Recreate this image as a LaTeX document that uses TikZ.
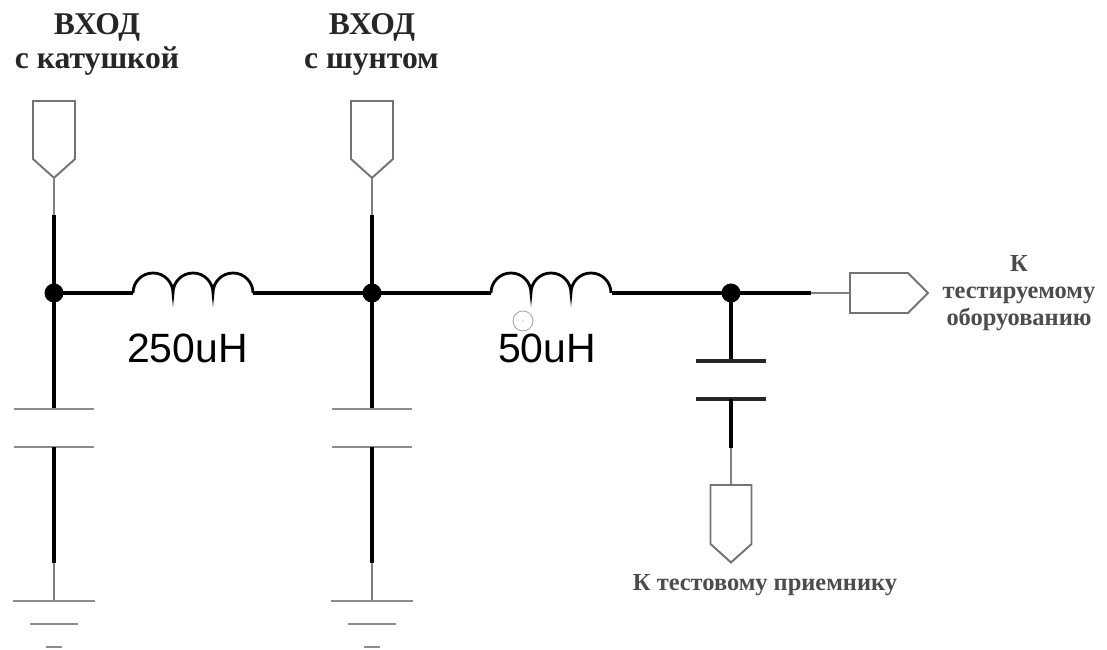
\documentclass[tikz,border=0pt]{standalone}
\usepackage{fontspec}
\setmainfont{Liberation Serif}
\setsansfont{Liberation Sans}
\usetikzlibrary{shapes.symbols,positioning,calc}

\begin{document}
\begin{tikzpicture}[
	wire/.style={line width=2.7pt, black},
	thin wire/.style={line width=1.2pt, black!50},
	plate/.style={line width=1.3pt, black!45},
	dark plate/.style={line width=2.4pt, black!85},
	coil/.style={line width=1.6pt, black},
	joint/.style={circle, fill=black, inner sep=0pt, outer sep=0pt, minimum size=3.8mm},
	pin/.style={signal, signal from=nowhere, draw=black!55, line width=1.1pt, inner sep=0pt, signal pointer angle=96},
	title/.style={font=\bfseries\fontsize{18}{20}\selectfont, text=black!85, inner sep=0pt, anchor=base},
	note/.style={font=\bfseries\fontsize{13.9}{15.3}\selectfont, text=black!70, inner sep=0pt, align=center},
	value/.style={font=\sffamily\fontsize{23.3}{26}\selectfont, text=black, inner sep=0pt}]
	\useasboundingbox (0,0) rectangle (22.14,13);

	\begin{scope}[xshift=1.08cm]
		\node[joint] (j1) at (0,7.14) {};
		\node[pin, signal to=south, minimum width=0.84cm, minimum height=1.16cm] (p1) at (0,10.4) {};
		\coordinate (t1) at (0,8.7);
		\coordinate (ca1) at (0,4.82);
		\coordinate (cb1) at (0,4.06);
		\coordinate (m1) at (0,1.74);
		\coordinate (g1) at (0,0.98);
		\draw [thin wire] (p1.south) -- (t1);
		\draw [wire] (t1) -- (j1.center);
		\draw [wire] (j1.center) -- (ca1);
		\draw [plate] ($(ca1)+(-0.8,0)$) -- ($(ca1)+(0.8,0)$);
		\draw [plate] ($(cb1)+(-0.8,0)$) -- ($(cb1)+(0.8,0)$);
		\draw [wire] (cb1) -- (m1);
		\draw [thin wire] (m1) -- (g1);
		\draw [plate] ($(g1)+(-0.82,0)$) -- ($(g1)+(0.82,0)$);
		\draw [plate] ($(g1)+(-0.48,-0.46)$) -- ($(g1)+(0.48,-0.46)$);
		\draw [plate] ($(g1)+(-0.16,-0.92)$) -- ($(g1)+(0.16,-0.92)$);
	\end{scope}

	\begin{scope}[xshift=7.44cm]
		\node[joint] (j2) at (0,7.14) {};
		\node[pin, signal to=south, minimum width=0.84cm, minimum height=1.16cm] (p2) at (0,10.4) {};
		\coordinate (t2) at (0,8.7);
		\coordinate (ca2) at (0,4.82);
		\coordinate (cb2) at (0,4.06);
		\coordinate (m2) at (0,1.74);
		\coordinate (g2) at (0,0.98);
		\draw [thin wire] (p2.south) -- (t2);
		\draw [wire] (t2) -- (j2.center);
		\draw [wire] (j2.center) -- (ca2);
		\draw [plate] ($(ca2)+(-0.8,0)$) -- ($(ca2)+(0.8,0)$);
		\draw [plate] ($(cb2)+(-0.8,0)$) -- ($(cb2)+(0.8,0)$);
		\draw [wire] (cb2) -- (m2);
		\draw [thin wire] (m2) -- (g2);
		\draw [plate] ($(g2)+(-0.82,0)$) -- ($(g2)+(0.82,0)$);
		\draw [plate] ($(g2)+(-0.48,-0.46)$) -- ($(g2)+(0.48,-0.46)$);
		\draw [plate] ($(g2)+(-0.16,-0.92)$) -- ($(g2)+(0.16,-0.92)$);
	\end{scope}

	\begin{scope}[xshift=14.62cm]
		\node[joint] (j3) at (0,7.14) {};
		\node[pin, signal to=south, minimum width=0.82cm, minimum height=1.18cm] (p3) at (0,2.71) {};
		\node[pin, signal to=east, signal pointer angle=90, minimum width=1.56cm, minimum height=0.8cm] (p4) at (2.96,7.14) {};
		\coordinate (ca3) at (0,5.78);
		\coordinate (cb3) at (0,5.02);
		\coordinate (m3) at (0,4.04);
		\coordinate (e3) at (1.6,7.14);
		\draw [wire] (j3.center) -- (ca3);
		\draw [dark plate] ($(ca3)+(-0.7,0)$) -- ($(ca3)+(0.7,0)$);
		\draw [dark plate] ($(cb3)+(-0.7,0)$) -- ($(cb3)+(0.7,0)$);
		\draw [wire] (cb3) -- (m3);
		\draw [thin wire] (m3) -- (p3.north);
		\draw [wire] (j3.center) -- (e3);
		\draw [thin wire] (e3) -- (p4.west);
	\end{scope}

	\coordinate (la) at (2.66,7.14);
	\coordinate (lb) at (5.06,7.14);
	\coordinate (lc) at (9.82,7.14);
	\coordinate (ld) at (12.24,7.14);
	\draw [wire] (j1.center) -- (la);
	\draw [coil] (la) arc (180:0:0.4) arc (180:0:0.4) arc (180:0:0.4);
	\draw [wire] (lb) -- (j2.center);
	\draw [wire] (j2.center) -- (lc);
	\draw [coil] (lc) arc (180:0:0.4) arc (180:0:0.4) arc (180:0:0.4);
	\draw [wire] (ld) -- (j3.center);

	\node[value] (v1) at (3.75,6.04) {250uH};
	\node[value] (v2) at (10.94,6.04) {50uH};
	\node[circle, draw=black!35, line width=0.5pt, inner sep=0pt, minimum size=0.4cm] (dot) at (10.46,6.58) {};
	\fill[black!40] (dot.center) circle (0.4pt);

	\node[title] (a1) at (1.94,12.3) {ВХОД};
	\node[title] (a2) at (1.94,11.62) {с катушкой};
	\node[title] (b1) at (7.44,12.3) {ВХОД};
	\node[title] (b2) at (7.43,11.62) {с шунтом};
	\node[note] (c1) at (20.38,7.14) {К\\тестируемому\\оборуованию};
	\node[note] (c2) at (15.3,1.3) {К тестовому приемнику};
\end{tikzpicture}
\end{document}
